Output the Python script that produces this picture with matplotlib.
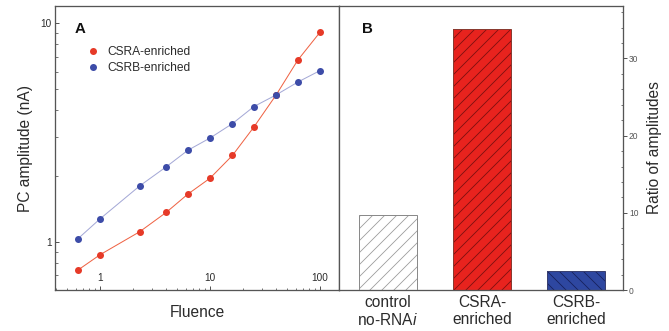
"""
Panel A: PC amplitude vs fluence (log-log), Panel B: ratio of amplitudes bars
"""

import numpy as np
import matplotlib
matplotlib.use('Agg')
import matplotlib.pyplot as plt
from matplotlib.ticker import LogLocator, NullFormatter, FixedLocator, FixedFormatter, MultipleLocator

plt.rcParams['font.family'] = ['Liberation Sans', 'DejaVu Sans']
plt.rcParams['mathtext.fontset'] = 'custom'
plt.rcParams['mathtext.rm'] = 'Liberation Sans'
plt.rcParams['mathtext.it'] = 'Liberation Sans:italic'
plt.rcParams['hatch.linewidth'] = 0.8

# 数据
fluence = [0.63, 1, 2.3, 4, 6.3, 10, 16, 25, 40, 63, 100]
csra_amp = [0.74, 0.87, 1.11, 1.36, 1.65, 1.95, 2.48, 3.34, 4.70, 6.79, 9.09]
csrb_amp = [1.03, 1.27, 1.80, 2.20, 2.62, 2.98, 3.47, 4.15, 4.70, 5.38, 6.07]

categories = ['control\nno-RNA$i$', 'CSRA-\nenriched', 'CSRB-\nenriched']
ratios = [9.7, 33.8, 2.5]

RED = '#e63a28'
BLUE = '#3d4ca8'
SPINE = '#555555'
TEXT = '#2b2b2b'

DPI = 72
fig = plt.figure(figsize=(669 / DPI, 331 / DPI), dpi=DPI)

# ---------- 面板 A ----------
ax1 = fig.add_axes([55 / 669, 41 / 331, 284 / 669, 284 / 331])
ax1.plot(fluence, csra_amp, '-', color='#ef6243', lw=1.0, zorder=2)
ax1.plot(fluence, csrb_amp, '-', color='#a4a8d6', lw=1.0, zorder=2)
ax1.plot(fluence, csra_amp, 'o', color=RED, ms=7, mec='none', label='CSRA-enriched', zorder=3)
ax1.plot(fluence, csrb_amp, 'o', color=BLUE, ms=7, mec='none', label='CSRB-enriched', zorder=3)

ax1.set_xscale('log')
ax1.set_yscale('log')
ax1.set_xlim(0.39, 149)
ax1.set_ylim(0.60, 12.0)

ax1.xaxis.set_major_locator(FixedLocator([1, 10, 100]))
ax1.xaxis.set_major_formatter(FixedFormatter(['1', '10', '100']))
ax1.xaxis.set_minor_locator(LogLocator(base=10, subs=np.arange(2, 10)))
ax1.xaxis.set_minor_formatter(NullFormatter())
ax1.yaxis.set_major_locator(FixedLocator([1, 10]))
ax1.yaxis.set_major_formatter(FixedFormatter(['1', '10']))
ax1.yaxis.set_minor_locator(LogLocator(base=10, subs=np.arange(2, 10)))
ax1.yaxis.set_minor_formatter(NullFormatter())

ax1.tick_params(axis='x', which='major', direction='in', length=4, width=1, color=SPINE,
                labelsize=10, labelcolor=TEXT, pad=-17)
ax1.tick_params(axis='x', which='minor', direction='in', length=2.5, width=0.8, color=SPINE)
ax1.tick_params(axis='y', which='major', direction='in', length=4, width=1, color=SPINE,
                labelsize=10, labelcolor=TEXT, pad=3)
ax1.tick_params(axis='y', which='minor', direction='in', length=2.5, width=0.8, color=SPINE)

for sp in ax1.spines.values():
    sp.set_color(SPINE)
    sp.set_linewidth(1.3)

ax1.set_xlabel('Fluence', fontsize=15.5, color=TEXT, labelpad=12)
ax1.set_ylabel('PC amplitude (nA)', fontsize=15.5, color=TEXT, labelpad=8)
ax1.text(0.07, 0.92, 'A', transform=ax1.transAxes, fontsize=15, fontweight='bold',
         color='#111111', va='center', ha='left')
ax1.legend(loc='upper left', bbox_to_anchor=(0.095, 0.875), frameon=False, fontsize=12,
           handlelength=1.0, handletextpad=0.75, labelspacing=0.3, borderaxespad=0,
           labelcolor=TEXT)

# ---------- 面板 B ----------
ax2 = fig.add_axes([339 / 669, 41 / 331, 284 / 669, 284 / 331])
x = np.arange(len(categories))
fills = ['white', '#e8231e', '#2e47a0']
hatch_colors = ['#9a9a9a', '#7a1010', '#16205a']
hatches = ['//', '//', '\\\\']
edge_colors = ['#8a8a8a', '#8a3a30', '#3a4070']
for xi, v, fc, hc, h, ec in zip(x, ratios, fills, hatch_colors, hatches, edge_colors):
    ax2.bar(xi, v, width=0.61, color=fc, edgecolor=hc, hatch=h, linewidth=0, zorder=2)
    ax2.bar(xi, v, width=0.61, fill=False, edgecolor=ec, linewidth=1.0, zorder=3)

ax2.set_xlim(-0.52, 2.5)
ax2.set_ylim(0, 36.8)
ax2.set_xticks(x)
ax2.set_xticklabels(categories, fontsize=15.5, color=TEXT, linespacing=1.15)
ax2.tick_params(axis='x', length=0, pad=5)

ax2.yaxis.tick_right()
ax2.yaxis.set_label_position('right')
ax2.yaxis.set_major_locator(MultipleLocator(10))
ax2.yaxis.set_minor_locator(MultipleLocator(2))
ax2.tick_params(axis='y', which='major', direction='out', length=4, width=1, color=SPINE,
                labelsize=8.5, labelcolor='#555555', pad=2)
ax2.tick_params(axis='y', which='minor', direction='in', length=2.5, width=0.8, color=SPINE)
ax2.set_ylabel('Ratio of amplitudes', fontsize=15.5, color=TEXT, labelpad=8)

for sp in ax2.spines.values():
    sp.set_color(SPINE)
    sp.set_linewidth(1.3)

ax2.text(0.08, 0.92, 'B', transform=ax2.transAxes, fontsize=15, fontweight='bold',
         color='#111111', va='center', ha='left')

fig.savefig('out.png', dpi=DPI)
